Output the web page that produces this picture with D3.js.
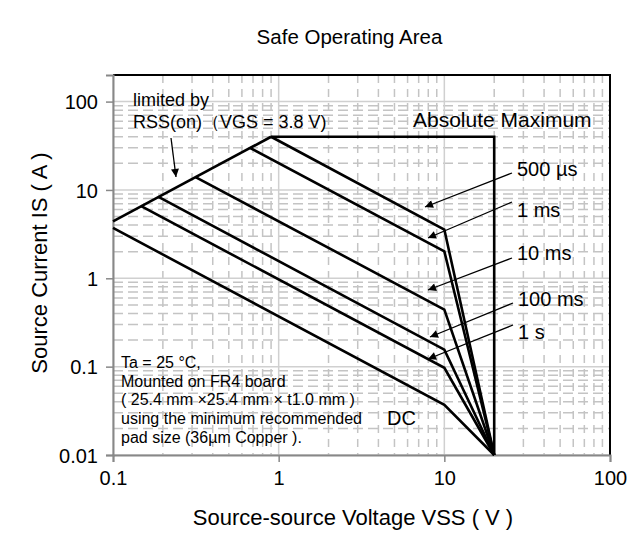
<!DOCTYPE html>
<html>
<head>
<meta charset="utf-8">
<script src="https://cdn.jsdelivr.net/npm/d3@7"></script>
<style>
  body { margin: 0; background: #fff; }
  svg { display: block; font-family: "Liberation Sans", Arial, sans-serif; }
</style>
</head>
<body>
<svg id="chart" width="637" height="540"></svg>
<script>
// tick values
let xTicks = [0.1, 1, 10, 100];
let yTicks = [0.01, 0.1, 1, 10, 100];

// curves, [V, A]
let rssLimit = [[0.1, 4.4], [0.9, 40]];
let absMax = [[0.9, 40], [20, 40], [20, 0.01]];
let curve500us = [[0.9, 40], [10, 3.56], [20, 0.01]];
let curve1ms = [[0.67, 30], [10, 2.02], [20, 0.01]];
let curve10ms = [[0.315, 14], [10, 0.443], [20, 0.01]];
let curve100ms = [[0.187, 8.4], [10, 0.156], [20, 0.01]];
let curve1s = [[0.147, 6.6], [10, 0.097], [20, 0.01]];
let curveDC = [[0.1, 3.72], [10, 0.037], [20, 0.01]];

let svg = d3.select("#chart");

// plot extents
let pLeft = 113, pRight = 610, pTop = 75, pBottom = 455;

let x = d3.scaleLog().domain([0.1, 100]).range([pLeft, pRight]);
let y = d3.scaleLog().domain([0.01, 200]).range([pBottom, pTop]);

// arrowhead
svg.append("defs").append("marker")
    .attr("id", "arrow")
    .attr("viewBox", "0 0 10 10")
    .attr("refX", 10)
    .attr("refY", 5)
    .attr("markerWidth", 11)
    .attr("markerHeight", 8)
    .attr("markerUnits", "userSpaceOnUse")
    .attr("orient", "auto")
    .append("path")
    .attr("d", "M0,0 L10,5 L0,10 Z")
    .attr("fill", "black");

// minor grid (dashed)
let xMinor = x.ticks().filter(d => xTicks.indexOf(d) < 0);
let yMinor = y.ticks().filter(d => yTicks.indexOf(d) < 0 && d < 200);

svg.append("g").selectAll("line")
    .data(xMinor)
    .join("line")
    .attr("x1", d => x(d)).attr("x2", d => x(d))
    .attr("y1", pTop).attr("y2", pBottom)
    .attr("stroke", "#c4c4c4")
    .attr("stroke-width", 1.5)
    .attr("stroke-dasharray", "8,6");

svg.append("g").selectAll("line")
    .data(yMinor)
    .join("line")
    .attr("x1", pLeft).attr("x2", pRight)
    .attr("y1", d => y(d)).attr("y2", d => y(d))
    .attr("stroke", "#c4c4c4")
    .attr("stroke-width", 1.5)
    .attr("stroke-dasharray", "10,5");

// major grid (solid)
svg.append("g").selectAll("line")
    .data(xTicks)
    .join("line")
    .attr("x1", d => x(d)).attr("x2", d => x(d))
    .attr("y1", pTop).attr("y2", pBottom)
    .attr("stroke", "#d0d0d0")
    .attr("stroke-width", 1.5);

svg.append("g").selectAll("line")
    .data(yTicks)
    .join("line")
    .attr("x1", pLeft).attr("x2", pRight)
    .attr("y1", d => y(d)).attr("y2", d => y(d))
    .attr("stroke", "#d0d0d0")
    .attr("stroke-width", 1.5);

// frame: top and right black
svg.append("path")
    .attr("d", `M${pLeft},${pTop} H${pRight} V${pBottom}`)
    .attr("fill", "none")
    .attr("stroke", "black")
    .attr("stroke-width", 2);

// axes
let fmt = d => String(d);
let xAxis = svg.append("g")
    .attr("transform", `translate(0,${pBottom})`)
    .call(d3.axisBottom(x).tickValues(xTicks).tickFormat(fmt).tickSizeOuter(0).tickSize(7).tickPadding(9));
let yAxis = svg.append("g")
    .attr("transform", `translate(${pLeft},0)`)
    .call(d3.axisLeft(y).tickValues(yTicks).tickFormat(fmt).tickSizeOuter(0).tickSize(7).tickPadding(8));

[xAxis, yAxis].forEach(function (g) {
    g.select(".domain").attr("stroke", "#888").attr("stroke-width", 2);
    g.selectAll(".tick line").attr("stroke", "#888").attr("stroke-width", 1.5);
    g.selectAll(".tick text").attr("fill", "black").style("font-size", "20px")
        .style("font-family", "'Liberation Sans', Arial, sans-serif");
});
yAxis.selectAll(".tick text").attr("dy", "0.36em");
xAxis.selectAll(".tick text").attr("dy", "0.71em");

// curves
let line = d3.line().x(d => x(d[0])).y(d => y(d[1]));
let curves = [rssLimit, absMax, curve500us, curve1ms, curve10ms, curve100ms, curve1s, curveDC];

svg.append("g").selectAll("path")
    .data(curves)
    .join("path")
    .attr("d", line)
    .attr("fill", "none")
    .attr("stroke", "black")
    .attr("stroke-width", 2.6)
    .attr("stroke-linejoin", "miter");

// annotation arrows
let arrows = [
    [171, 138, 176, 177],
    [512, 173, 425, 207],
    [512, 202, 428, 238],
    [512, 258, 428, 290],
    [513, 303, 430, 337],
    [513, 325, 428, 359]
];
svg.append("g").selectAll("line")
    .data(arrows)
    .join("line")
    .attr("x1", d => d[0]).attr("y1", d => d[1])
    .attr("x2", d => d[2]).attr("y2", d => d[3])
    .attr("stroke", "black")
    .attr("stroke-width", 1.3)
    .attr("marker-end", "url(#arrow)");

// labels
function label(tx, ty, txt, size, anchor) {
    svg.append("text")
        .attr("x", tx)
        .attr("y", ty)
        .attr("text-anchor", anchor || "start")
        .style("font-size", size + "px")
        .attr("fill", "black")
        .text(txt);
}

label(133, 106, "limited by", 18);
label(133, 128, "RSS(on)（VGS = 3.8 V)", 18);
label(413, 127, "Absolute Maximum", 21);
label(517, 176, "500 µs", 20);
label(517, 217, "1 ms", 20);
label(517, 260, "10 ms", 20);
label(518, 306, "100 ms", 20);
label(518, 339, "1 s", 20);
label(387, 425, "DC", 20);

let notes = [
    "Ta = 25 °C,",
    "Mounted on FR4 board",
    "( 25.4 mm ×25.4 mm × t1.0 mm )",
    "using the minimum recommended",
    "pad size (36µm Copper )."
];
notes.forEach(function (t, i) {
    label(121, 368 + i * 18.7, t, 16);
});

// titles
label(349.5, 44, "Safe Operating Area", 20.5, "middle");
label(353, 525, "Source-source Voltage VSS ( V )", 22, "middle");
svg.append("text")
    .attr("transform", "translate(47,263) rotate(-90)")
    .attr("text-anchor", "middle")
    .style("font-size", "22px")
    .text("Source Current IS ( A )");
</script>
</body>
</html>
